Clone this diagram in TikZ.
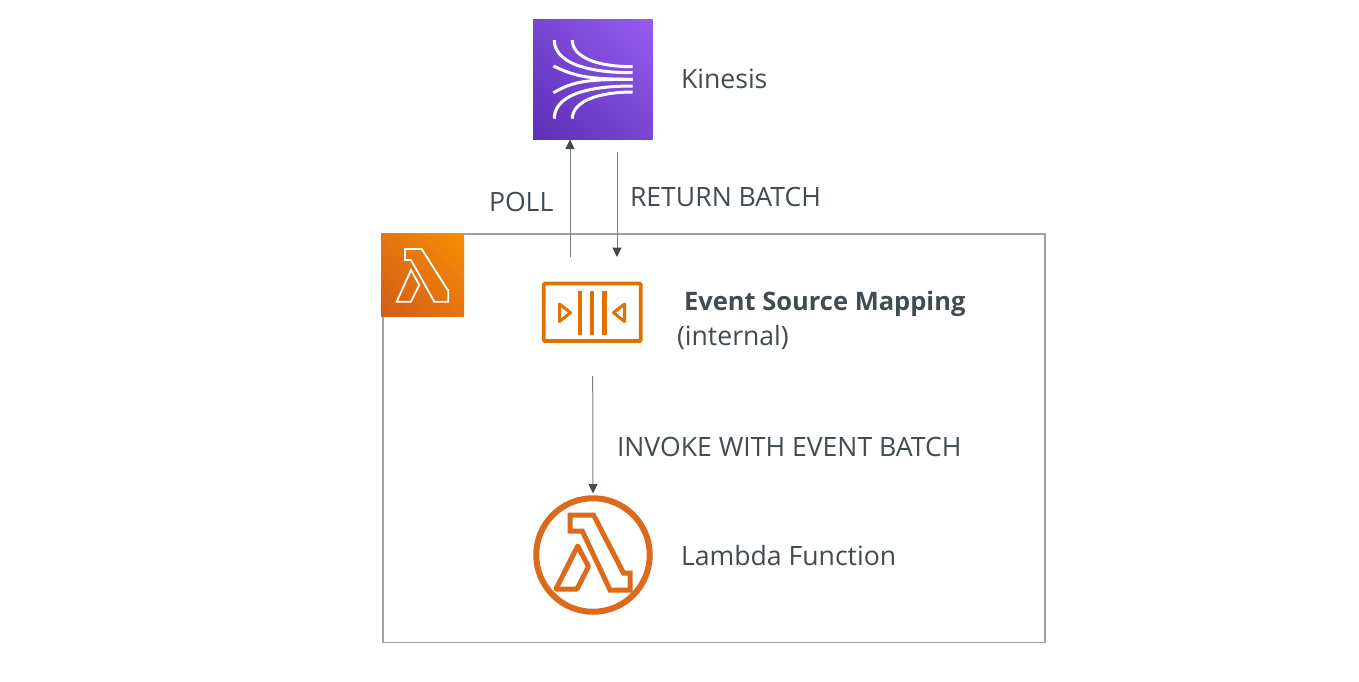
\documentclass[tikz,border=0pt]{standalone}
\usepackage{fontspec}
\setmainfont{Open Sans}
\usetikzlibrary{arrows.meta,shadings}
\definecolor{txt}{HTML}{414B50}
\definecolor{conn}{HTML}{7A7F82}
\definecolor{frameg}{HTML}{A0A0A0}
\definecolor{lamb}{HTML}{E07000}
\definecolor{fnc}{HTML}{DC6A1C}
\definecolor{lamA}{HTML}{D05C17}
\definecolor{lamB}{HTML}{F78E04}
\definecolor{lamC}{HTML}{E47510}
\definecolor{kinA}{HTML}{5A30B5}
\definecolor{kinB}{HTML}{965CF0}
\definecolor{kinC}{HTML}{7846D2}
\tikzset{
  x=1pt,y=-1pt,
  lbl/.style={anchor=base west,inner sep=0pt,outer sep=0pt,text=txt,font=\fontsize{26.6}{30}\selectfont},
  conn/.style={draw=conn,line width=1pt,-{Triangle[length=9.5pt,width=9pt,color=txt]}},
  kline/.style={draw=white,line width=3pt},
  lamline/.style={line join=miter,draw=white,line width=1.8pt},
}
\begin{document}
\begin{tikzpicture}
\useasboundingbox (0,0) rectangle (1359,681);
\fill[white] (0,0) rectangle (1359,681);
% container
\draw[frameg,line width=1.8pt] (383,234) rectangle (1045,642.5);
% lambda badge
\shade[lower left=lamA,upper right=lamB,upper left=lamC,lower right=lamC]
  (381,233.5) rectangle (464,316.5);
\draw[lamline] (405,249)--(421.7,249)--(447.7,290)--(448.3,290)--(448.3,301.7)--(434.3,301.7)--(411,260)--(405,260)--cycle;
\draw[lamline] (411,270)--(419.3,285)--(411,301.7)--(396.7,301.7)--cycle;
% kinesis
\shade[lower left=kinA,upper right=kinB,upper left=kinC,lower right=kinC]
  (533,19) rectangle (652.5,139);
\draw[kline] (554.3,40) .. controls (554.3,60) and (580,72.7) .. (632.7,72.7);
\draw[kline] (572.3,40) .. controls (572.3,57) and (596.7,66.7) .. (632.7,66.7);
\draw[kline] (553.3,66) .. controls (573,75) and (583,79.3) .. (632.7,79.3);
\draw[kline] (553.3,92.7) .. controls (573,82) and (583,79.3) .. (632.7,79.3);
\draw[kline] (554.3,118.7) .. controls (554.3,98) and (580,86) .. (632.7,86);
\draw[kline] (572.3,118.7) .. controls (572.3,102) and (596.7,92) .. (632.7,92);
% event source mapping icon
\node[draw=lamb,line width=3.8pt,rounded corners=1.2pt,inner sep=0pt,outer sep=0pt,minimum width=97pt,minimum height=57.5pt] (esm) at (592.2,312.3) {};
\foreach \x in {580,592,604.3}
  \draw[lamb,line width=4.4pt] (\x,290.5)--(\x,334.5);
\draw[lamb,line width=3pt,line join=round] (559.5,304)--(570.5,312.7)--(559.5,321.5)--cycle;
\draw[lamb,line width=3pt,line join=round] (624.5,304)--(613.5,312.7)--(624.5,321.5)--cycle;
% lambda function
\node[draw=fnc,line width=6pt,circle,inner sep=0pt,minimum size=113.5pt] (fn) at (593,555) {};
\draw[fnc,line width=5pt,line join=miter] (570,515)--(593.5,515)--(623.5,573)--(630,573)--(630,590)--(610,590)--(582.3,531)--(570,531)--cycle;
\draw[fnc,line width=5pt,line join=round] (577.7,546)--(588.5,566.5)--(577,589)--(556,589)--cycle;
% connector ends
\coordinate (pollstart) at (570,257);
\coordinate (pollend) at (570,139.5);
\coordinate (retstart) at (617,152);
\coordinate (retend) at (617,257);
\coordinate (invstart) at (592.7,376);
\coordinate (invend) at (593,493.5);
\draw[conn] (pollstart) -- (pollend);
\draw[conn] (retstart) -- (retend);
\draw[conn] (invstart) -- (invend);
% labels
\node[lbl] (tkin) at (681,88) {Kinesis};
\node[lbl] (tpoll) at (489,211) {POLL};
\node[lbl] (tret) at (630,206) {RETURN BATCH};
\node[lbl,font=\fontsize{25.5}{30}\selectfont\bfseries] (tesm) at (684,310) {Event Source Mapping};
\node[lbl] (tint) at (677,345) {(internal)};
\node[lbl] (tinv) at (617,456) {INVOKE WITH EVENT BATCH};
\node[lbl] (tfn) at (681,565) {Lambda Function};
\end{tikzpicture}
\end{document}
